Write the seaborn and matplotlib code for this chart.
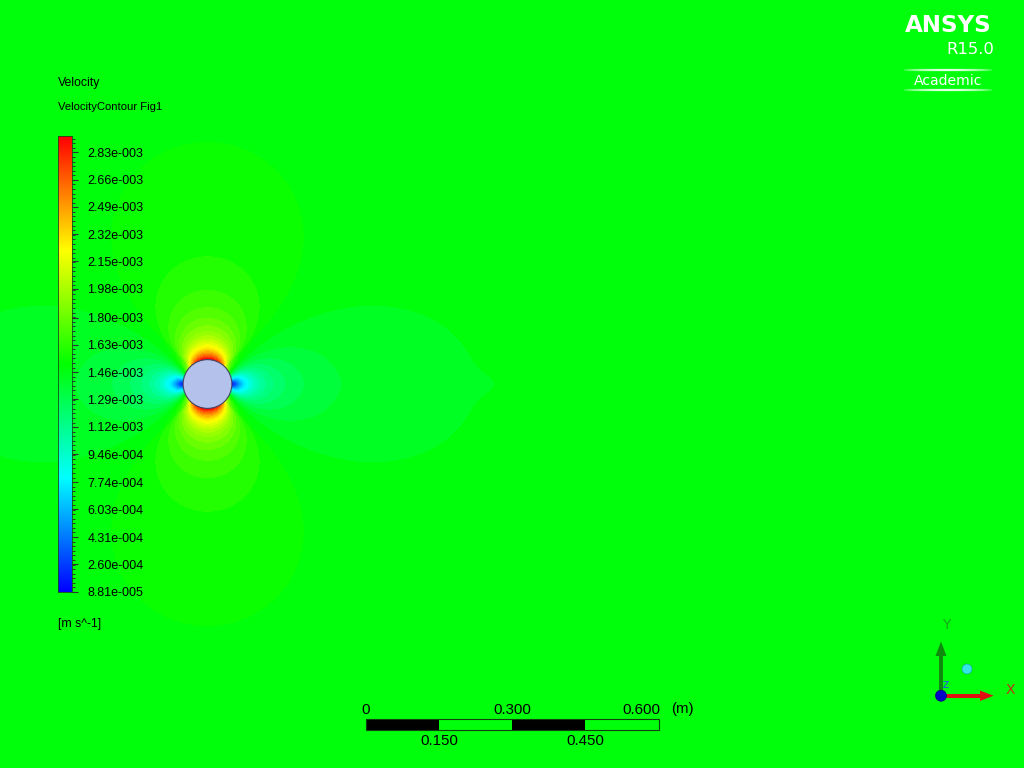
import numpy as np
import matplotlib
matplotlib.use("Agg")
import matplotlib.pyplot as plt
import seaborn as sns
from matplotlib.colors import Normalize
from matplotlib.patches import Circle, Rectangle, Polygon
from matplotlib.collections import LineCollection
from matplotlib.ticker import FixedLocator

# ---------------- data ----------------
LEGEND_TITLE = "Velocity"
LEGEND_SUBTITLE = "VelocityContour Fig1"
LEGEND_UNITS = "[m s^-1]"
LEGEND_LABELS = ["8.81e-005", "2.60e-004", "4.31e-004", "6.03e-004", "7.74e-004",
                 "9.46e-004", "1.12e-003", "1.29e-003", "1.46e-003", "1.63e-003",
                 "1.80e-003", "1.98e-003", "2.15e-003", "2.32e-003", "2.49e-003",
                 "2.66e-003", "2.83e-003"]
VMIN = 8.81e-5            # legend minimum [m/s]
VMAX = 2.932e-3           # legend maximum (top of the bar) [m/s]
N_LEVELS = 44
FREESTREAM_U = 1.4749e-3  # [m/s]
CYL_RADIUS = 0.05         # [m]
DECAY_EXPONENT = 1.63     # decay of the disturbance with distance (R/r)^p
LOBE_SHAPE_SIDE = 1.3     # angular sharpness of the up/downstream lobes
LOBE_SHAPE_TOP = 0.6      # angular sharpness of the upper/lower lobes
WAKE_DEFICIT = 0.002      # fraction of U
WAKE_HALF_WIDTH = 0.03    # [m]
SCALE_TOP_LABELS = ["0", "0.300", "0.600"]
SCALE_TOP_VALUES = [0.0, 0.300, 0.600]
SCALE_BOTTOM_LABELS = ["0.150", "0.450"]
SCALE_BOTTOM_VALUES = [0.150, 0.450]
SCALE_UNIT = "(m)"
ANSYS_COLORS = ["#0000ff", "#00ffff", "#00ff00", "#ffff00", "#ff0000"]

# ---------------- style ----------------
sns.set_theme(style="white")
plt.rcParams["font.family"] = ["Liberation Sans", "DejaVu Sans"]

W, H = 1024, 768
PPM = 487.7                 # pixels per metre
CX, CY = 207.5, 384.0       # cylinder centre in pixels

fig = plt.figure(figsize=(W / 100, H / 100), dpi=100)
ax = fig.add_axes([0, 0, 1, 1])
xlim = (-CX / PPM, (W - CX) / PPM)
ylim = (-(H - CY) / PPM, CY / PPM)

cmap = sns.blend_palette(ANSYS_COLORS, n_colors=256, as_cmap=True)
norm = Normalize(VMIN, VMAX)

# velocity magnitude field around the cylinder
xs = np.linspace(xlim[0], xlim[1], 1300)
ys = np.linspace(ylim[0], ylim[1], 980)
X, Y = np.meshgrid(xs, ys)
r2 = X**2 + Y**2
cos2t = (X**2 - Y**2) / r2
ang = np.where(cos2t >= 0, np.abs(cos2t) ** LOBE_SHAPE_SIDE,
               -np.abs(cos2t) ** LOBE_SHAPE_TOP)
g = (CYL_RADIUS**2 / r2) ** (DECAY_EXPONENT / 2)
speed = FREESTREAM_U * np.sqrt(np.clip(1 - 2 * ang * g + g**2, 0, None))
wake = 1.0 / (1.0 + np.exp(-(X - 0.1) / 0.03))
speed = speed - FREESTREAM_U * WAKE_DEFICIT * np.exp(-(Y / WAKE_HALF_WIDTH) ** 2) * wake
speed = np.ma.masked_where(r2 < CYL_RADIUS**2 * 0.97, speed)

levels = np.linspace(VMIN, VMAX, N_LEVELS + 1)
ax.contourf(X, Y, speed, levels=levels, cmap=cmap, norm=norm, extend="both")
ax.add_patch(Circle((0, 0), CYL_RADIUS, facecolor="#b4c1ea", edgecolor="#404660",
                    lw=0.8, zorder=5))
ax.set_xlim(*xlim)
ax.set_ylim(*ylim)
ax.set_facecolor("#00ff00")
ax.axis("off")

# ---------------- overlay in pixel coordinates ----------------
ov = fig.add_axes([0, 0, 1, 1])
ov.set_xlim(0, W)
ov.set_ylim(H, 0)
ov.axis("off")
ov.patch.set_alpha(0)

ov.text(58, 83, LEGEND_TITLE, fontsize=8.8, va="center", ha="left", color="black")
ov.text(58, 107, LEGEND_SUBTITLE, fontsize=8.1, va="center", ha="left", color="black")
ov.text(58, 624, LEGEND_UNITS, fontsize=8.8, va="center", ha="left", color="black")

# scale bar
bx0, by0, bh = 366.0, 719.0, 11.0
top_y, bot_y = 709.5, 741.0
seg_vals = [0.0] + SCALE_BOTTOM_VALUES[:1] + [SCALE_TOP_VALUES[1]] + SCALE_BOTTOM_VALUES[1:] + [SCALE_TOP_VALUES[2]]
for i in range(len(seg_vals) - 1):
    xa = bx0 + seg_vals[i] * PPM
    xb = bx0 + seg_vals[i + 1] * PPM
    ov.add_patch(Rectangle((xa, by0), xb - xa, bh,
                           facecolor="black" if i % 2 == 0 else "none",
                           edgecolor="none", zorder=3))
bar_len = SCALE_TOP_VALUES[-1] * PPM
ov.add_patch(Rectangle((bx0, by0), bar_len, bh, facecolor="none",
                       edgecolor="#104010", lw=0.8, zorder=4))
for lab, val in zip(SCALE_TOP_LABELS, SCALE_TOP_VALUES):
    xp = bx0 + val * PPM
    ha = "center"
    if val == SCALE_TOP_VALUES[-1]:
        ha = "right"
        xp += 2
    ov.text(xp, top_y, lab, fontsize=10.8, ha=ha, va="center", color="black")
for lab, val in zip(SCALE_BOTTOM_LABELS, SCALE_BOTTOM_VALUES):
    ov.text(bx0 + val * PPM, bot_y, lab, fontsize=10.8, ha="center", va="center",
            color="black")
ov.text(671, top_y, SCALE_UNIT, fontsize=10.8, ha="left", va="center", color="black")

# ANSYS logo
ov.text(992, 25, "ANSYS", fontsize=16.6, fontweight="bold", ha="right", va="center",
        color="white", family="DejaVu Sans")
ov.text(994, 50, "R15.0", fontsize=11.8, ha="right", va="center", color="white",
        family="DejaVu Sans")
ov.text(948, 81, "Academic", fontsize=10.1, ha="center", va="center", color="white",
        family="DejaVu Sans")
for ly in (69.5, 89.5):
    xs_l = np.linspace(902, 994, 60)
    segs = [[(xs_l[i], ly), (xs_l[i + 1], ly)] for i in range(len(xs_l) - 1)]
    t = np.linspace(0, 1, len(segs))
    alph = np.clip(np.sin(np.pi * t) ** 0.6, 0, 1) * 0.9
    cols = [(1, 1, 1, a) for a in alph]
    ov.add_collection(LineCollection(segs, colors=cols, linewidths=1.6))

# axis triad
ov.add_patch(Rectangle((939, 655), 4, 41, facecolor="#0f8a0f", edgecolor="none", zorder=5))
ov.add_patch(Polygon([(935.5, 656), (946.5, 656), (941, 641.5)], closed=True,
                     facecolor="#0f8a0f", edgecolor="none", zorder=5))
ov.add_patch(Rectangle((941, 693.7), 40, 4, facecolor="#e01010", edgecolor="none", zorder=5))
ov.add_patch(Polygon([(980, 690.5), (980, 701), (993.5, 695.7)], closed=True,
                     facecolor="#e01010", edgecolor="none", zorder=5))
ov.add_patch(Circle((941, 695.7), 5.5, facecolor="#0000c8", edgecolor="#000070",
                    lw=0.5, zorder=6))
ov.add_patch(Circle((967, 669), 5.0, facecolor="#33e6e6", edgecolor="#10a0a0",
                    lw=0.4, zorder=6))
ov.text(946.5, 625, "Y", fontsize=10, color="#1a9a1a", ha="center", va="center",
        family="DejaVu Sans", alpha=0.85)
ov.text(1010, 689.5, "X", fontsize=10, color="#e01010", ha="center", va="center",
        family="DejaVu Sans", alpha=0.85)
ov.text(946, 686, "Z", fontsize=6.5, color="#2040ff", ha="center", va="center",
        family="DejaVu Sans")

# ---------------- colour legend ----------------
bar_top_px, bar_bot_px = 136.0, 592.0
cax = fig.add_axes([57.5 / W, 1 - bar_bot_px / H, 14 / W, (bar_bot_px - bar_top_px) / H])
grad = np.linspace(VMIN, VMAX, 512)[:, None]
cax.imshow(grad, aspect="auto", cmap=cmap, norm=norm, origin="lower",
           extent=[0, 1, VMIN, VMAX])
cax.set_xlim(0, 1)
cax.set_ylim(VMIN, VMAX)
cax.set_xticks([])
label_vals = [float(s) for s in LEGEND_LABELS]
step = (label_vals[-1] - label_vals[0]) / (len(label_vals) - 1)
cax.yaxis.tick_right()
cax.set_yticks(label_vals)
cax.set_yticklabels(LEGEND_LABELS)
minor = np.arange(VMIN, VMAX + 1e-12, step / 6)
cax.yaxis.set_minor_locator(FixedLocator(minor))
cax.tick_params(axis="y", which="major", length=4.3, width=0.8, color="#303030",
                direction="out", pad=7.2, labelsize=9, labelcolor="black")
cax.tick_params(axis="y", which="minor", length=2.5, width=0.7, color="#303030",
                direction="out")
for sp in cax.spines.values():
    sp.set_visible(True)
    sp.set_color("#1a4a1a")
    sp.set_linewidth(0.6)

fig.savefig("out.png", dpi=100)
